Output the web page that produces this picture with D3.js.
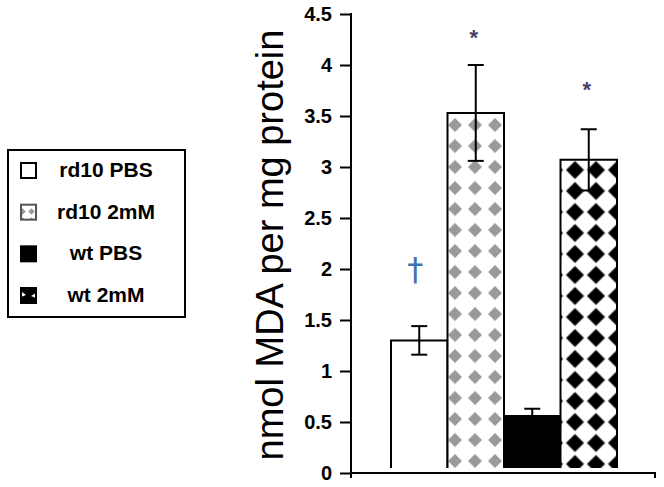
<!DOCTYPE html>
<html>
<head>
<meta charset="utf-8">
<script src="https://cdn.jsdelivr.net/npm/d3@7"></script>
<style>
  html, body { margin: 0; padding: 0; background: #fff; }
  svg { display: block; }
</style>
</head>
<body>
<svg id="chart" width="664" height="487"></svg>
<script>
// ---- data ----
const categories = ["rd10 PBS", "rd10 2mM", "wt PBS", "wt 2mM"];
const means = [1.30, 3.53, 0.56, 3.07];
const errors = [0.14, 0.47, 0.07, 0.30];
const yTicks = [0, 0.5, 1, 1.5, 2, 2.5, 3, 3.5, 4, 4.5];
const yLabel = "nmol MDA per mg protein";
const marks = ["†", "*", "", "*"];
const markLevels = [2.0, 4.35, 0, 3.84];

// ---- layout ----
const svg = d3.select("#chart");
const axisX = 351, axisBottom = 473, axisTop = 14, axisRight = 655;
const barBaseGap = 5;
const font = "Liberation Sans, Arial, sans-serif";

const y = d3.scaleLinear().domain([0, 4.5]).range([axisBottom, axisTop]);
const x = d3.scaleBand().domain(categories).range([391, 617]).padding(0);

// patterns
const defs = svg.append("defs");
function diamondPattern(id, w, h, ox, oy, r, color, bg) {
  const p = defs.append("pattern").attr("id", id)
    .attr("patternUnits", "userSpaceOnUse")
    .attr("x", ox).attr("y", oy).attr("width", w).attr("height", h);
  p.append("rect").attr("width", w).attr("height", h).attr("fill", bg || "#fff");
  const cx = w / 2, cy = h / 2;
  p.append("path").attr("d", `M${cx},${cy - r}L${cx + r},${cy}L${cx},${cy + r}L${cx - r},${cy}Z`).attr("fill", color);
}
diamondPattern("grayDiamonds", 20, 21, 5, 9.5, 7, "#999999");
diamondPattern("blackDiamonds", 21, 21, 18.5, 12.5, 9, "#000000");
diamondPattern("grayDiamondsSmall", 9, 9, 0, 0, 3.2, "#9a9a9a");

const fills = ["#ffffff", "url(#grayDiamonds)", "#000000", "url(#blackDiamonds)"];

// y axis
const yAxis = d3.axisLeft(y).tickValues(yTicks).tickSize(11).tickPadding(8)
  .tickFormat(d => d3.format("")(d));
const gy = svg.append("g").attr("transform", `translate(${axisX},0)`).call(yAxis);
gy.select(".domain").remove();
gy.selectAll(".tick line").attr("stroke", "#000").attr("stroke-width", 2);
gy.selectAll(".tick text").attr("font-family", font)
  .attr("font-weight", "bold").attr("font-size", 20).attr("fill", "#000").attr("dy", "0.3em");
svg.append("line").attr("x1", axisX).attr("x2", axisX)
  .attr("y1", y(4.5) - 1).attr("y2", axisBottom + 5)
  .attr("stroke", "#000").attr("stroke-width", 2);

// bars
const barBase = y(0) - barBaseGap;
const bars = svg.append("g");
categories.forEach((c, i) => {
  const x0 = x(c), w = x.bandwidth(), top = y(means[i]);
  bars.append("rect").attr("x", x0).attr("y", top).attr("width", w)
    .attr("height", barBase - top).attr("fill", fills[i]);
  bars.append("path")
    .attr("d", `M${x0},${barBase}V${top}H${x0 + w}V${barBase}`)
    .attr("fill", "none").attr("stroke", "#000").attr("stroke-width", 2);
});

// error bars
const eb = svg.append("g").attr("stroke", "#000").attr("stroke-width", 2);
categories.forEach((c, i) => {
  const cx = x(c) + x.bandwidth() / 2;
  const hi = y(means[i] + errors[i]), lo = y(means[i] - errors[i]);
  eb.append("line").attr("x1", cx).attr("x2", cx).attr("y1", hi).attr("y2", lo);
  eb.append("line").attr("x1", cx - 8).attr("x2", cx + 8).attr("y1", hi).attr("y2", hi);
  eb.append("line").attr("x1", cx - 8).attr("x2", cx + 8).attr("y1", lo).attr("y2", lo);
});

// x axis
svg.append("path")
  .attr("d", `M${axisX - 1},${axisBottom}H${axisRight}V${axisBottom + 5}`)
  .attr("fill", "none").attr("stroke", "#000").attr("stroke-width", 2);

// significance marks
categories.forEach((c, i) => {
  if (!marks[i]) return;
  const cx = x(c) + x.bandwidth() / 2;
  if (marks[i] === "†") {
    svg.append("text").attr("x", cx - 4).attr("y", y(markLevels[i])).attr("dy", "0.35em")
      .attr("text-anchor", "middle").attr("font-family", "DejaVu Sans, sans-serif")
      .attr("font-size", 32).attr("fill", "#3f72b0").text(marks[i]);
  } else {
    svg.append("text").attr("x", cx - 2).attr("y", y(markLevels[i])).attr("dy", "0.7em")
      .attr("text-anchor", "middle").attr("font-family", font)
      .attr("font-weight", "bold").attr("font-size", 22).attr("fill", "#4a3d6e").text(marks[i]);
  }
});

// y label
svg.append("text")
  .attr("transform", `translate(283,245) rotate(-90)`)
  .attr("text-anchor", "middle")
  .attr("font-family", font)
  .attr("font-size", 38).attr("fill", "#000").text(yLabel);

// legend
const lg = svg.append("g");
lg.append("rect").attr("x", 8).attr("y", 150).attr("width", 177).attr("height", 167)
  .attr("fill", "#fff").attr("stroke", "#000").attr("stroke-width", 2);
const legY = d3.scalePoint().domain(categories).range([170, 295]);
const legFills = ["#fff", "url(#grayDiamondsSmall)", "#000", "#fff"];
categories.forEach((c, i) => {
  const cy = legY(c);
  lg.append("rect").attr("x", 21).attr("y", cy - 7).attr("width", 15).attr("height", 15)
    .attr("fill", legFills[i]).attr("stroke", i === 1 ? "#555" : "#000").attr("stroke-width", 2);
  if (i === 3) {
    lg.append("path").attr("d", `M21,${cy - 7}H36V${cy - 2}L31,${cy + 1}L36,${cy + 3}V${cy + 8}H21V${cy + 2}L26,${cy}L22,${cy - 3}Z`)
      .attr("fill", "#000");
  }
  lg.append("text").attr("x", 106).attr("y", cy + 7)
    .attr("text-anchor", "middle")
    .attr("font-family", font)
    .attr("font-weight", "bold").attr("font-size", 21).attr("fill", "#000").text(c);
});
</script>
</body>
</html>
